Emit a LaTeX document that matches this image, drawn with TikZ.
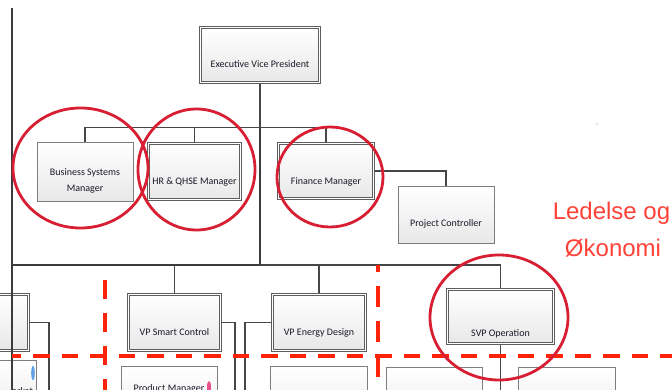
\documentclass[tikz,border=0pt]{standalone}
\usepackage{fontspec}
\setmainfont{Carlito}
\newfontfamily\headfont{Liberation Sans}
\definecolor{linegray}{RGB}{70,70,70}
\definecolor{boxedge}{RGB}{125,125,125}
\definecolor{boxtxt}{RGB}{25,25,40}
\definecolor{ringred}{RGB}{215,30,50}
\definecolor{dashred}{RGB}{255,35,10}
\definecolor{titlered}{RGB}{255,65,55}
\definecolor{markblue}{RGB}{95,160,230}
\definecolor{markpink}{RGB}{230,80,140}

\begin{document}
\begin{tikzpicture}[x=1pt,y=-1pt,
  every node/.style={font=\fontsize{10}{16}\selectfont, text=boxtxt},
  card/.style={rectangle, draw=boxedge, line width=.7pt,
    top color=white, bottom color=black!9, inner sep=0pt, outer sep=.35pt,
    text height=#1, text depth=0pt},
  card/.default=0pt,
  dcard/.style={card=#1, draw=boxedge!75!black, double=white,
    double distance=1.6pt, outer sep=1.5pt},
  dcard/.default=0pt,
  conn/.style={draw=linegray, line width=1.1pt},
  frameline/.style={draw=linegray!85!black, line width=1.8pt},
  ring/.style={draw=ringred, line width=2.8pt},
  divider/.style={draw=dashred, line width=3.2pt},
]
\useasboundingbox (0,0) rectangle (672,390);
\clip (0,0) rectangle (672,390);

% management level
\node[dcard=25pt, minimum width=119pt, minimum height=55pt] (evp) at (260,55) {Executive Vice President};
\node[card, align=center, text height=42pt, text depth=2.6pt,
      minimum width=96pt, minimum height=59pt] (bsm) at (85,171.5) {Business Systems\\Manager};
\node[dcard=25.4pt, minimum width=92pt, minimum height=56pt] (hr) at (194.5,171.5) {HR \& QHSE Manager};
\node[dcard=26.4pt, minimum width=95pt, minimum height=55pt] (fin) at (326,171) {Finance Manager};
\node[card=23.4pt, minimum width=96pt, minimum height=57pt] (pc) at (446,214.5) {Project Controller};

% vice president level
\node[dcard, minimum width=97pt, minimum height=56pt] (leftvp) at (-20,322.5) {};
\node[dcard=25.4pt, minimum width=92pt, minimum height=56pt] (smart) at (174.5,322.5) {VP Smart Control};
\node[dcard=25.4pt, minimum width=93pt, minimum height=56pt] (energy) at (319,322.5) {VP Energy Design};
\node[dcard=39.4pt, minimum width=106pt, minimum height=54pt] (svp) at (500.5,316.5) {SVP Operation};

% next level, cut off by the lower edge
\node[card, text height=0pt, text depth=2pt, text width=90pt, align=right,
      minimum width=96pt, minimum height=70pt] (market) at (-12,395) {arket};
\node[card, text height=0pt, text depth=18pt,
      minimum width=96pt, minimum height=68pt] (prodman) at (169,400) {Product Manager};
\node[card, minimum width=97pt, minimum height=68pt] (low3) at (319,400) {};
\node[card, minimum width=96pt, minimum height=66pt] (low4) at (434,400) {};
\node[card, minimum width=97pt, minimum height=66pt] (low5) at (566.5,400) {};

% small markers on the lower boxes
\fill[markblue] (33,373) ellipse (1.8pt and 7pt);
\fill[markpink] (209,387) ellipse (2pt and 6pt);

% fixed points for the frame and the open connector ends
\coordinate (frameTop) at (12,8);
\coordinate (frameBot) at (12,395);
\coordinate (frameCorner) at (12,265);
\coordinate (frameJoin) at (260,265);
\coordinate (leftDrop) at (49,395);
\coordinate (smartDrop) at (235,395);
\coordinate (energyDrop) at (245,395);

% connectors
\draw[conn] (evp.south) -- (frameJoin);
\draw[conn] (bsm.north) -- ++(0,-14) -| (fin.north);
\draw[conn] (hr.north) -- ++(0,-14);
\draw[conn] (fin.east) -| (pc.north);
\draw[conn] (frameCorner) -| (svp.north);
\draw[conn] (smart.north) -- (smart.north |- frameJoin);
\draw[conn] (energy.north) -- (energy.north |- frameJoin);
\draw[conn] (leftvp.east) -| (leftDrop);
\draw[conn] (smart.east) -| (smartDrop);
\draw[conn] (energy.west) -| (energyDrop);
\draw[conn] (svp.south) -- (svp.south |- frameBot);

% frame of the management area
\draw[frameline] (frameTop) -- (frameBot);
\draw[frameline] (frameCorner) -- (frameJoin) -- ++(0,-137);

% area dividers
\draw[divider, dash pattern=on 16.5pt off 12pt, dash phase=7.5pt] (12,356) -- (672,356);
\draw[divider, dash pattern=on 19pt off 14pt] (105,280) -- (105,390);
\draw[divider, dash pattern=on 21pt off 14pt, dash phase=14pt] (378,265) -- (378,390);

% highlight rings
\draw[ring] (80.5,168) ellipse (67.5pt and 60pt);
\draw[ring] (196.5,169.5) ellipse (58.5pt and 60.5pt);
\draw[ring] (330,177) ellipse (53pt and 50pt);
\draw[ring] (499,317.5) ellipse (69pt and 62.5pt);

% area title
\node[font=\headfont\fontsize{24}{28}\selectfont, text=titlered, anchor=base, inner sep=0pt] (title1) at (611.5,220) {Ledelse og};
\node[font=\headfont\fontsize{24}{28}\selectfont, text=titlered, anchor=base, inner sep=0pt] (title2) at (613,257) {Økonomi};

\fill[gray] (597,124) circle (0.6pt);
\end{tikzpicture}
\end{document}
